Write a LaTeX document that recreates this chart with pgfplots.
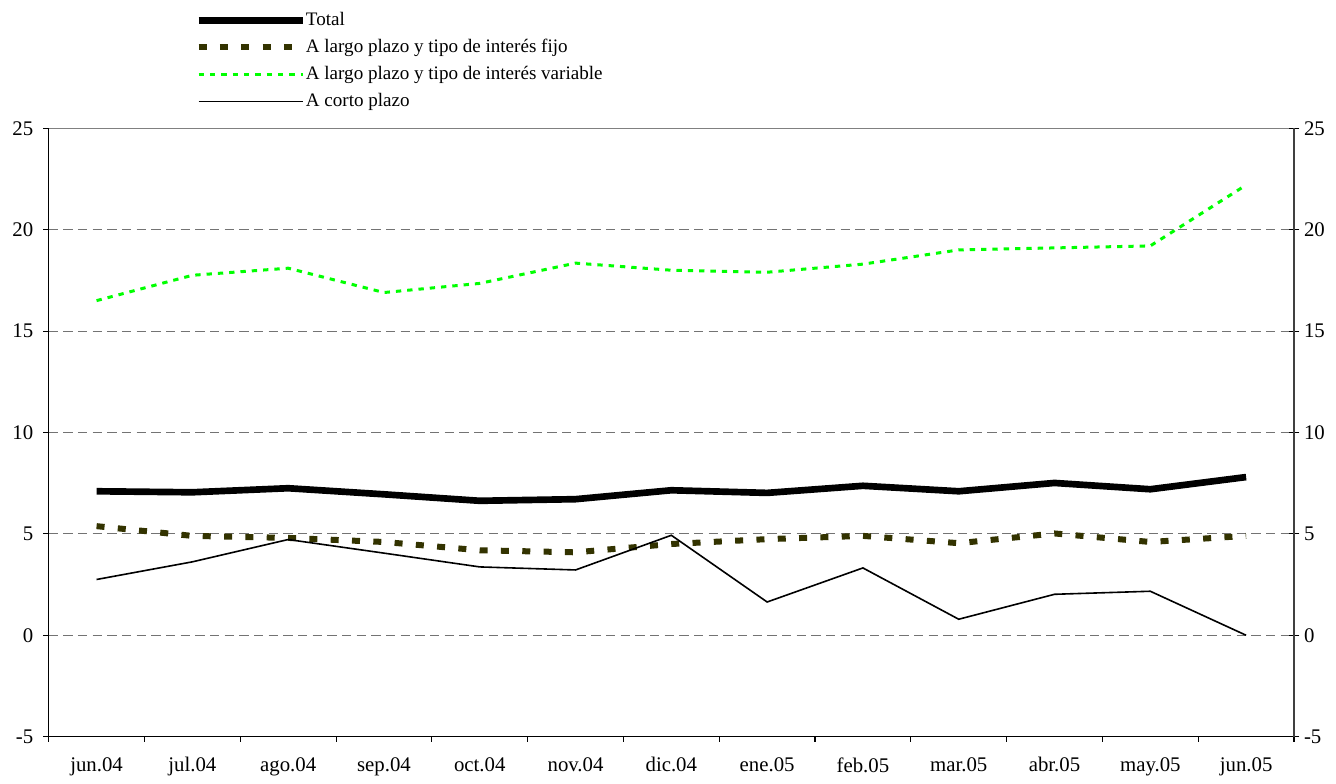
\documentclass[border=0pt]{standalone}
\usepackage{fontspec}
\setmainfont{Liberation Serif}
\usepackage{pgfplots}
\pgfplotsset{compat=1.18}
\definecolor{darkolive}{RGB}{51,51,0}
\definecolor{brightgreen}{RGB}{0,255,0}
\begin{document}
\begin{tikzpicture}[font=\fontsize{14.3}{17}\selectfont]
\useasboundingbox (-36.5pt,-35.5pt) rectangle (965.5pt,552.5pt);
\begin{axis}[
 at={(0pt,0pt)}, anchor=south west, scale only axis,
 width=934pt, height=456.3pt,
 xmin=-0.5, xmax=12.5, ymin=-5, ymax=25,
 axis x line*=bottom, axis y line*=left,
 axis line style={black, line width=1pt},
 xtick={0,...,12},
 xticklabels={jun.04,jul.04,ago.04,sep.04,oct.04,nov.04,dic.04,ene.05,feb.05,mar.05,abr.05,may.05,jun.05},
 major x tick style={draw=none},
 minor xtick={-0.5,0.5,...,12.5},
 minor x tick style={black, line width=0.8pt},
 minor tick length=4pt,
 major tick length=4pt,
 ytick={-5,0,...,25},
 y tick style={black, line width=0.8pt},
 tick align=outside,
 xticklabel style={yshift=-8pt},
 yticklabel style={xshift=-4pt},
 /pgf/number format/assume math mode=true,
 tick label style={font=\fontsize{15.6}{18}\selectfont},
 ymajorgrids,
 grid style={black!55, dash pattern=on 7pt off 4pt, line width=0.7pt},
 legend style={at={(0.1175,1.192)}, anchor=north west, draw=none, fill=none,
   inner sep=0pt, row sep=7.25pt,
   nodes={inner sep=0pt, text height=10pt, text depth=3pt, font=\fontsize{14.3}{17}\selectfont},
   /tikz/every even column/.append style={column sep=0pt}},
 legend cell align=left,
 legend image code/.code={\draw[#1] (0pt,0pt) -- (78pt,0pt);},
]
\addplot[black, line width=5pt, line join=round] coordinates {
(0,7.1) (1,7.05) (2,7.25) (3,6.95) (4,6.63) (5,6.71) (6,7.15) (7,7.02) (8,7.37) (9,7.1) (10,7.51) (11,7.2) (12,7.8)};
\addlegendentry{Total}
\addplot[darkolive, line width=4.5pt, dash pattern=on 6pt off 10pt] coordinates {
(0,5.38) (1,4.9) (2,4.8) (3,4.6) (4,4.19) (5,4.09) (6,4.5) (7,4.74) (8,4.9) (9,4.54) (10,5.02) (11,4.6) (12,4.9)};
\addlegendentry{A largo plazo y tipo de interés fijo}
\addplot[brightgreen, line width=2.25pt, dash pattern=on 4pt off 4.5pt] coordinates {
(0,16.5) (1,17.75) (2,18.1) (3,16.9) (4,17.35) (5,18.35) (6,18.0) (7,17.9) (8,18.3) (9,19.0) (10,19.1) (11,19.2) (12,22.2)};
\addlegendentry{A largo plazo y tipo de interés variable}
\addplot[black, line width=1.2pt] coordinates {
(0,2.75) (1,3.62) (2,4.72) (3,4.05) (4,3.37) (5,3.22) (6,4.93) (7,1.64) (8,3.32) (9,0.79) (10,2.02) (11,2.17) (12,0.0)};
\addlegendentry{A corto plazo}
\draw[gray, line width=1.2pt] (rel axis cs:0,1) -- (rel axis cs:1,1);
\end{axis}
\begin{axis}[
 at={(0pt,0pt)}, anchor=south west, scale only axis,
 width=934pt, height=456.3pt,
 xmin=-0.5, xmax=12.5, ymin=-5, ymax=25,
 axis x line=none, axis y line*=right,
 axis line style={black!75, line width=1pt},
 ytick={-5,0,...,25},
 y tick style={black, line width=0.8pt},
 major tick length=8pt,
 tick align=center,
 yticklabel style={xshift=0pt},
 /pgf/number format/assume math mode=true,
 tick label style={font=\fontsize{15.6}{18}\selectfont},
]
\end{axis}
\end{tikzpicture}
\end{document}
